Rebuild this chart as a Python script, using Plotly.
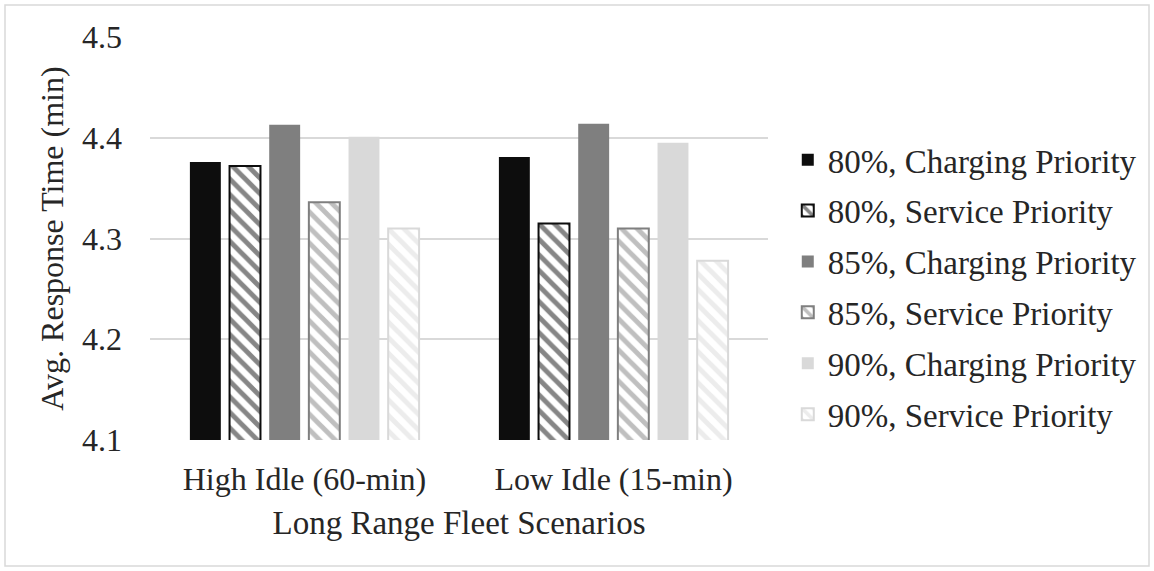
import plotly.graph_objects as go

categories = ["High Idle (60-min)", "Low Idle (15-min)"]
series_names = [
    "80%, Charging Priority",
    "80%, Service Priority",
    "85%, Charging Priority",
    "85%, Service Priority",
    "90%, Charging Priority",
    "90%, Service Priority",
]
c80_charging = [4.376, 4.381]
c80_service = [4.372, 4.315]
c85_charging = [4.413, 4.414]
c85_service = [4.336, 4.310]
c90_charging = [4.401, 4.395]
c90_service = [4.310, 4.278]
values = [c80_charging, c80_service, c85_charging, c85_service, c90_charging, c90_service]

colors = ["#0d0d0d", "#0d0d0d", "#7f7f7f", "#7f7f7f", "#d9d9d9", "#d9d9d9"]
hatched = [False, True, False, True, False, True]

FONT = "Liberation Serif"
TXT = "#262626"

fig = go.Figure()
for i, (name, vals) in enumerate(zip(series_names, values)):
    col = colors[i]
    if hatched[i]:
        marker = dict(
            color="white",
            line=dict(color=col, width=2),
            pattern=dict(shape="\\", fgcolor=col, bgcolor="white", size=11, solidity=0.45),
        )
    else:
        marker = dict(color=col, line=dict(width=0))
    fig.add_trace(go.Bar(
        x=categories, y=vals, name=name, marker=marker, legendgroup=f"g{i}",
    ))

fig.update_layout(
    width=1154, height=571,
    margin=dict(l=150, r=386, t=37, b=131),
    paper_bgcolor="white", plot_bgcolor="white",
    barmode="group", bargap=0.23, bargroupgap=0.22,
    font=dict(family=FONT, color=TXT, size=32),
    legend=dict(
        x=1.032, y=0.765, xanchor="left", yanchor="top",
        font=dict(family=FONT, size=33, color=TXT),
        tracegroupgap=5, itemwidth=30,
    ),
    xaxis=dict(
        showgrid=False, showline=False, ticks="",
        ticklabelstandoff=17,
        tickfont=dict(family=FONT, size=32, color=TXT),
        title=dict(text="Long Range Fleet Scenarios", font=dict(family=FONT, size=33, color=TXT), standoff=14),
    ),
    yaxis=dict(
        range=[4.1, 4.5], dtick=0.1, tickformat=".1f",
        showgrid=True, gridcolor="#d9d9d9", gridwidth=1.5,
        zeroline=False, showline=False, ticks="",
        ticklabelstandoff=27,
        tickfont=dict(family=FONT, size=32, color=TXT),
        title=dict(text="Avg. Response Time (min)", font=dict(family=FONT, size=32, color=TXT), standoff=8),
    ),
    shapes=[dict(
        type="rect", xref="paper", yref="paper",
        x0=-145/618, x1=(1149-150)/618, y0=-(566-440)/403, y1=(440-5)/403,
        line=dict(color="#d9d9d9", width=1.5), fillcolor="rgba(0,0,0,0)", layer="below",
    )],
)

fig.write_html("out.html")
